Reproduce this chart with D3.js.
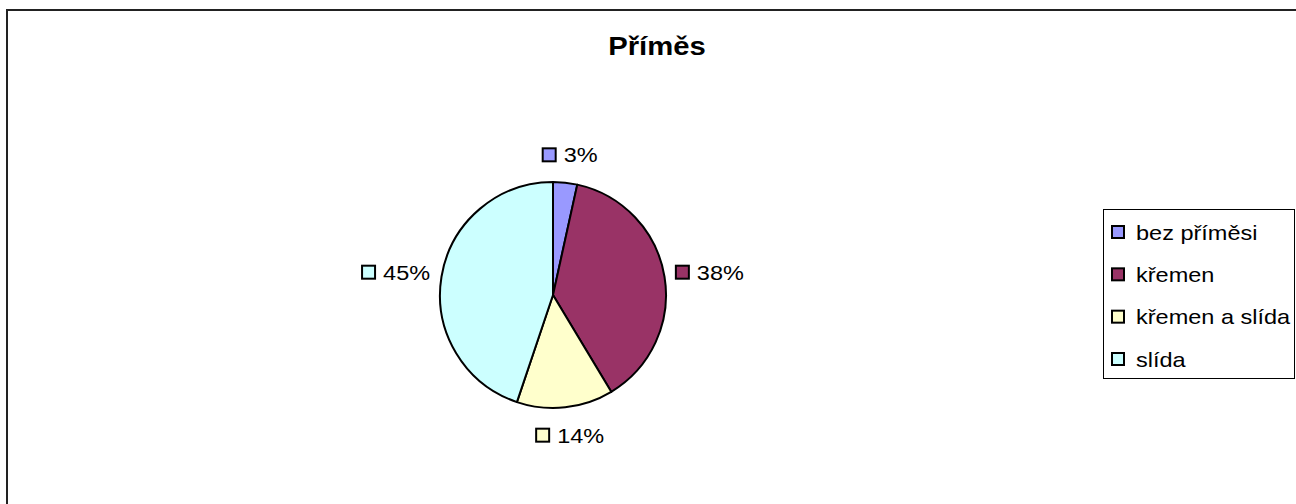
<!DOCTYPE html>
<html>
<head>
<meta charset="utf-8">
<script src="https://cdn.jsdelivr.net/npm/d3@7"></script>
<style>
  body { margin: 0; background: #fff; }
  text { font-family: "Liberation Sans", Arial, sans-serif; fill: #000; }
</style>
</head>
<body>
<script>
const title = "Příměs";
const categories = ["bez příměsi", "křemen", "křemen a slída", "slída"];
const values = [1, 11, 4, 13];
const colors = ["#9999FF", "#993366", "#FFFFCC", "#CCFFFF"];

document.addEventListener('DOMContentLoaded', function() {
    const w = 1296, h = 504;
    const cx = 553, cy = 295, r = 113;
    const stretch = 1.12; // text in the original is a bit wider than Arial

    const svg = d3.select("body")
    .append("svg")
    .attr("width", w)
    .attr("height", h);

    //chart border (right and bottom run off the picture)
    svg.append("rect")
    .attr("x", 7)
    .attr("y", 10)
    .attr("width", w)
    .attr("height", h)
    .attr("fill", "none")
    .attr("stroke", "#222")
    .attr("stroke-width", 2);

    //title
    svg.append("text")
    .attr("transform", "translate(657,55) scale(1.17,1)")
    .attr("text-anchor", "middle")
    .style("font-size", "25px")
    .style("font-weight", "bold")
    .text(title);

    const total = d3.sum(values);
    const pct = d3.format(".0%");
    const color = d3.scaleOrdinal().domain(categories).range(colors);

    const pie = d3.pie().sort(null).value((d, i) => values[i]);
    const arcs = pie(categories);
    const arc = d3.arc().innerRadius(0).outerRadius(r);

    const g = svg.append("g")
    .attr("transform", "translate(" + cx + "," + cy + ")");

    g.selectAll("path")
    .data(arcs)
    .enter()
    .append("path")
    .attr("d", arc)
    .attr("fill", d => color(d.data))
    .attr("stroke", "#000")
    .attr("stroke-width", 2)
    .attr("stroke-linejoin", "round");

    //data labels: small colour box + percentage, placed around the pie
    const rx = 159, ry = 141;
    arcs.forEach(function(d, i) {
        const a = (d.startAngle + d.endAngle) / 2;
        const lx = rx * Math.sin(a), ly = -ry * Math.cos(a);
        const lab = g.append("g");
        const t = lab.append("text")
        .style("font-size", "21px")
        .text(pct(values[i] / total));
        const tw = t.node().getComputedTextLength() * stretch;
        const box = 13, gap = 8;
        const full = box + gap + tw;
        const x0 = lx - full / 2;
        lab.append("rect")
        .attr("x", x0)
        .attr("y", ly - box / 2)
        .attr("width", box)
        .attr("height", box)
        .attr("fill", color(d.data))
        .attr("stroke", "#000")
        .attr("stroke-width", 2);
        t.attr("transform", "translate(" + (x0 + box + gap) + "," + (ly + 7.5) + ") scale(" + stretch + ",1)");
    });

    //legend
    const legX = 1103, legY = 209, legW = 191, legH = 169;
    const leg = svg.append("g");
    leg.append("rect")
    .attr("x", legX + 0.5)
    .attr("y", legY + 0.5)
    .attr("width", legW)
    .attr("height", legH)
    .attr("fill", "#fff")
    .attr("stroke", "#000")
    .attr("stroke-width", 1);

    const ly = d3.scalePoint()
    .domain(categories)
    .range([legY + 23, legY + 150]);

    const item = leg.selectAll(".item")
    .data(categories)
    .enter()
    .append("g")
    .attr("class", "item");

    item.append("rect")
    .attr("x", legX + 9)
    .attr("y", d => ly(d) - 6)
    .attr("width", 12)
    .attr("height", 12)
    .attr("fill", d => color(d))
    .attr("stroke", "#000")
    .attr("stroke-width", 2);

    item.append("text")
    .attr("transform", d => "translate(" + (legX + 33) + "," + (ly(d) + 7.5) + ") scale(" + stretch + ",1)")
    .style("font-size", "21px")
    .text(d => d);
});
</script>
</body>
</html>
